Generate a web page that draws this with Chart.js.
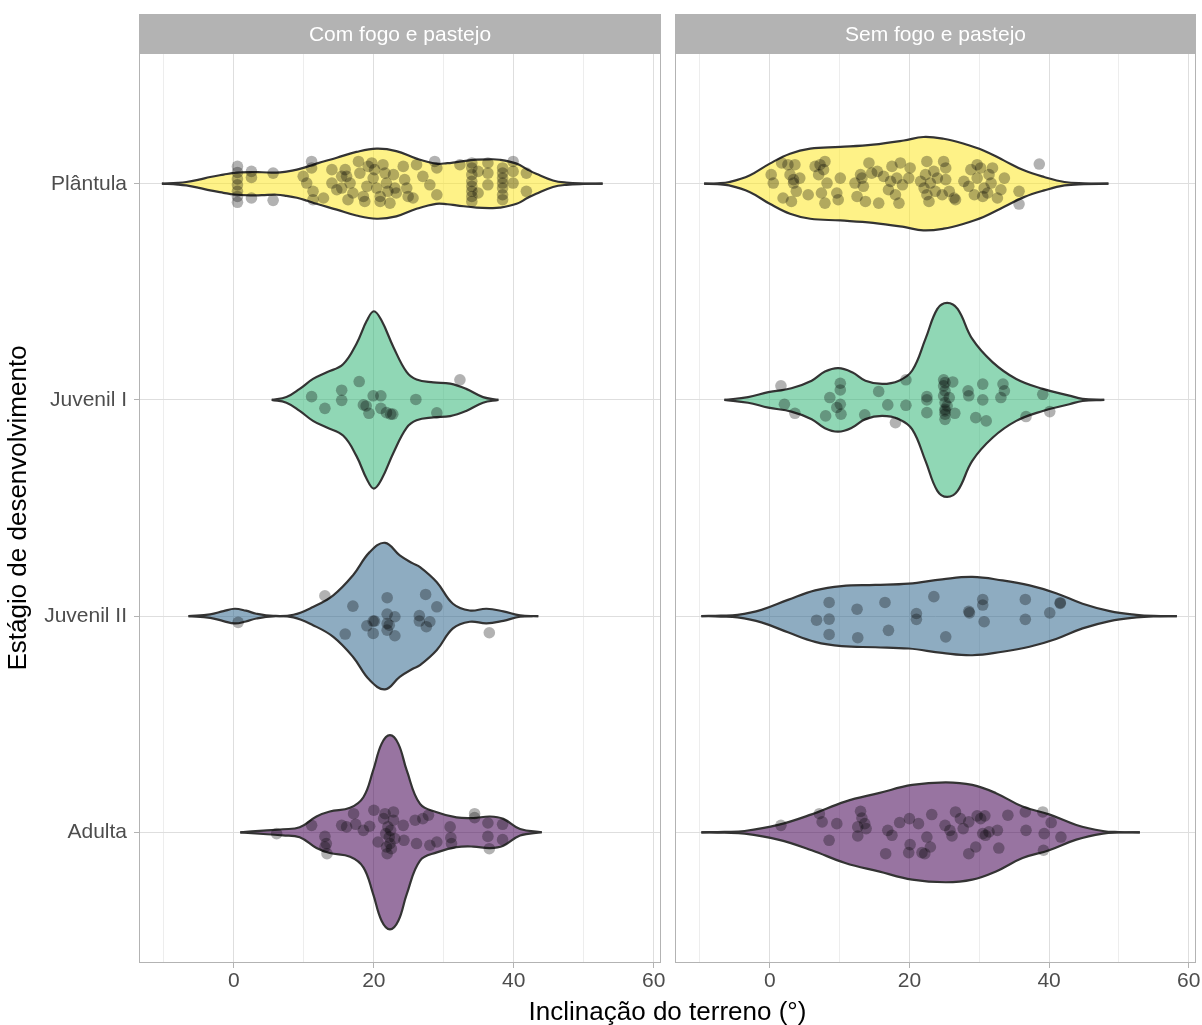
<!DOCTYPE html>
<html lang="pt">
<head>
<meta charset="utf-8">
<title>Inclinação do terreno por estágio de desenvolvimento</title>
<script src="https://cdn.jsdelivr.net/npm/chart.js@4.4.1/dist/chart.umd.min.js"></script>
<style>
  html, body { margin: 0; padding: 0; background: #fff; }
  #wrap { position: relative; width: 1202px; height: 1025px; overflow: hidden; }
  #wrap canvas { position: absolute; left: 0; top: 0; }
  #xtitle {
    position: absolute; left: 140px; width: 1055px; top: 996px;
    text-align: center; font: 26px 'Liberation Sans', Arial, sans-serif;
    line-height: 30px; color: #000;
  }
</style>
</head>
<body>
<div id="wrap">
  <canvas id="com" width="1202" height="1025"></canvas>
  <canvas id="sem" width="1202" height="1025"></canvas>
  <div id="xtitle">Inclinação do terreno (°)</div>
</div>
<script>
// ---- Categories, facets and axis breaks ----
const stages = ['Plântula', 'Juvenil I', 'Juvenil II', 'Adulta'];
const panels = ['Com fogo e pastejo', 'Sem fogo e pastejo'];
const xTicks = [0, 20, 40, 60];
const xMinorGrid = [-10, 10, 30, 50];
const stageColors = ['rgba(253,231,37,0.55)', 'rgba(53,183,121,0.55)', 'rgba(49,104,142,0.55)', 'rgba(68,1,84,0.55)'];

// ---- Violin outlines: [slope (°), half width in category units] ----
const comPlantulaViolin = [[-10.3,0],[-8,0.004],[-6.8,0.008],[-5,0.019],[-3.4,0.031],[-1.5,0.042],[0,0.05],[2.3,0.054],[4,0.053],[6.1,0.051],[7.5,0.056],[9,0.065],[10.5,0.079],[11.8,0.093],[14.7,0.12],[17.5,0.147],[20.4,0.162],[23.2,0.151],[26.1,0.116],[28.9,0.093],[30.5,0.095],[31.8,0.1],[34.7,0.111],[36.5,0.113],[38,0.111],[40.4,0.093],[42,0.065],[43.2,0.046],[45.6,0.015],[47.5,0.005],[50,0.001],[52.7,0]];
const comJuv1Violin = [[5.4,0],[7.5,0.013],[9.4,0.051],[11.3,0.097],[13.2,0.127],[15.6,0.165],[17.5,0.259],[19,0.367],[20,0.41],[21.1,0.367],[22.8,0.244],[24.7,0.128],[26.1,0.094],[28.5,0.081],[30.9,0.075],[33.2,0.051],[35.6,0.013],[37.8,0]];
const comJuv2Violin = [[-6.5,0],[-3.4,0.008],[-1.5,0.023],[0.1,0.034],[1.7,0.025],[3.2,0.011],[5.6,0.001],[8.5,0.006],[11.3,0.042],[14.2,0.096],[17,0.188],[19.4,0.296],[21.6,0.339],[23.7,0.281],[25.5,0.245],[26.6,0.227],[29,0.157],[31.3,0.057],[33.7,0.026],[36.1,0.034],[38.5,0.022],[40.9,0.003],[43.5,0]];
const comAdultaViolin = [[0.9,0],[4.2,0.008],[7,0.014],[9.4,0.023],[11.8,0.073],[13.7,0.096],[16.6,0.113],[18.5,0.162],[19.9,0.286],[21.1,0.409],[22.3,0.449],[23.5,0.409],[24.7,0.286],[26.6,0.131],[29,0.093],[31.8,0.069],[34.2,0.066],[36.6,0.073],[38.5,0.062],[40.9,0.015],[44,0]];

const semPlantulaViolin = [[-9.4,0],[-7.5,0.002],[-5.8,0.008],[-2.9,0.038],[0,0.093],[2.9,0.139],[5.8,0.162],[10.1,0.17],[14.8,0.181],[19.2,0.2],[22,0.216],[24.9,0.208],[27.8,0.185],[30.6,0.154],[33.5,0.108],[36.4,0.062],[39.3,0.031],[42.2,0.008],[45,0.002],[48.5,0]];
const semJuv1Violin = [[-6.5,0],[-3.1,0.013],[-0.2,0.036],[3.1,0.054],[6,0.089],[7.9,0.131],[9.8,0.147],[11.8,0.128],[13.7,0.089],[16.1,0.074],[18.5,0.089],[20.4,0.136],[22.3,0.282],[24,0.421],[25.4,0.449],[26.9,0.421],[29,0.282],[31.9,0.175],[35.3,0.097],[39.1,0.051],[42.9,0.02],[44.8,0.005],[47.9,0]];
const semJuv2Violin = [[-9.8,0],[-7,0.002],[-4.6,0.006],[-1.2,0.029],[2.6,0.075],[6.5,0.119],[10.3,0.139],[15.1,0.144],[19.9,0.15],[24.7,0.17],[29,0.181],[33.3,0.165],[37.2,0.142],[41,0.106],[44.8,0.057],[48.7,0.023],[52.5,0.006],[55,0.001],[58.3,0]];
const semAdultaViolin = [[-9.8,0],[-6.5,0.002],[-3.6,0.006],[1.2,0.034],[6,0.083],[10.8,0.142],[15.6,0.181],[20.4,0.219],[25.2,0.231],[29,0.219],[32.4,0.181],[36.2,0.119],[40,0.083],[43.9,0.034],[47.7,0.006],[50,0.001],[53,0]];

// ---- Observations: [slope (°), vertical jitter in hundredths of a category] ----
const JITTER_UNIT = 0.01;
const comPlantulaPts = [[0.5,-8.0],[0.5,-5.2],[0.5,-2.2],[0.5,0.5],[0.5,3.5],[0.5,5.9],[0.5,8.6],[2.5,-5.7],[2.5,-2.9],[2.5,6.6],[5.6,-4.9],[5.6,7.7],[10.4,-0.3],[11.1,-10.3],[11.1,-7.3],[11.3,3.5],[11.3,7.4],[9.9,-3.4],[12.8,6.6],[14.0,-6.5],[14.0,-0.3],[14.7,2.8],[15.4,2.0],[15.9,-6.5],[16.1,-3.4],[16.6,-0.3],[17.0,4.3],[17.8,-10.3],[18.0,-4.9],[18.5,5.9],[18.7,8.2],[19.0,1.2],[19.7,-9.6],[19.9,-2.6],[20.1,-6.5],[20.4,2.0],[20.9,5.9],[21.3,-8.8],[21.6,-4.9],[21.8,-0.3],[22.0,3.5],[22.3,9.0],[22.8,-4.2],[23.0,2.0],[23.2,4.3],[24.2,-8.0],[24.4,-1.9],[24.7,2.0],[24.9,5.9],[25.6,6.6],[26.1,-8.8],[27.0,-3.4],[28.0,0.5],[28.7,-10.3],[29.0,-7.3],[29.0,5.1],[20.9,8.2],[19.2,-8.0],[15.4,-3.4],[16.3,7.4],[34.0,-9.6],[34.0,-7.3],[34.0,-4.2],[34.0,-1.1],[34.0,1.2],[34.0,3.5],[34.0,5.9],[34.0,8.2],[32.3,-8.8],[34.9,-5.7],[36.3,-9.6],[36.3,-4.9],[36.3,0.5],[34.9,4.3],[38.4,-7.3],[38.4,-4.9],[38.4,-2.6],[38.4,-0.3],[38.4,2.0],[38.4,5.1],[38.4,7.4],[39.9,-10.3],[39.9,-5.7],[39.9,-0.3],[41.8,-4.9],[41.8,3.5]];
const comJuv1Pts = [[11.1,-1.5],[13.0,3.9],[15.4,-4.5],[15.4,0.2],[17.9,-8.5],[18.5,2.3],[18.9,2.8],[19.3,6.2],[19.9,-1.9],[21.0,-1.9],[21.0,3.9],[21.8,5.9],[22.4,6.6],[22.7,6.6],[26.0,-0.2],[29.0,6.0],[32.3,-9.3]];
const comJuv2Pts = [[0.6,2.9],[13.0,-9.4],[15.9,8.3],[17.0,-4.6],[19.0,4.5],[19.9,2.3],[19.9,8.0],[20.1,2.3],[21.9,-8.5],[21.9,-0.9],[21.9,3.4],[21.9,6.5],[22.2,4.2],[23.0,0.3],[23.0,9.1],[26.5,-0.2],[26.5,2.3],[27.4,-10.0],[27.5,4.9],[28.0,2.6],[29.0,-4.3],[36.5,7.7]];
const comAdultaPts = [[6.1,0.6],[11.1,-3.2],[13.0,1.9],[13.2,5.2],[13.0,6.8],[13.3,9.9],[15.4,-3.2],[16.1,-2.5],[17.1,-8.6],[17.4,-3.7],[18.5,-0.9],[19.4,-2.8],[20.0,-10.2],[20.6,4.5],[21.4,-6.3],[21.6,-8.6],[21.7,0.6],[21.8,6.8],[21.9,9.9],[22.0,-2.5],[22.2,2.2],[22.3,5.2],[22.4,-0.9],[22.5,7.6],[22.8,-9.4],[22.8,-5.6],[23.0,2.9],[24.2,-3.2],[24.3,3.7],[25.9,-5.6],[26.1,5.2],[27.0,-6.3],[27.8,-7.9],[28.0,6.0],[29.0,4.5],[30.9,-2.5],[31.0,2.5],[31.1,5.2],[34.4,-8.6],[34.4,-6.8],[36.3,-4.3],[36.3,1.9],[36.5,7.6],[38.4,-3.7],[38.4,3.4]];

const semPlantulaPts = [[0.2,-4.2],[0.5,-0.3],[1.7,-9.6],[1.9,6.6],[2.6,-8.8],[2.9,-4.2],[3.4,-0.3],[3.4,-1.9],[3.6,-8.8],[3.8,3.5],[3.1,8.2],[4.3,-2.6],[5.5,5.1],[6.5,-8.0],[7.0,-4.2],[7.2,-8.8],[7.4,4.3],[7.7,-6.5],[7.9,-10.3],[7.9,9.0],[8.2,-0.3],[9.6,4.3],[10.1,-2.6],[9.8,7.4],[12.2,-0.3],[12.5,5.9],[13.0,-4.2],[13.2,-2.6],[13.4,1.2],[13.7,8.2],[14.2,-9.6],[14.6,-4.9],[15.4,-5.7],[15.6,9.0],[16.3,-3.4],[17.0,2.8],[17.3,-1.1],[17.5,-8.0],[18.0,5.1],[18.2,-2.6],[18.5,9.0],[18.7,-9.6],[19.0,0.5],[19.9,-2.6],[20.1,-7.3],[21.6,-1.1],[22.1,2.0],[22.3,-4.2],[22.5,-10.3],[22.5,5.1],[22.8,8.2],[23.0,-0.3],[23.5,-5.7],[23.7,3.5],[24.0,-2.6],[24.7,5.1],[24.9,-10.3],[25.2,-7.3],[25.2,-1.9],[25.7,3.5],[26.4,6.6],[26.6,7.4],[27.8,-1.1],[28.5,1.2],[28.8,-6.5],[29.3,5.1],[29.7,-8.8],[29.7,-2.6],[30.2,-7.3],[30.5,5.9],[30.7,2.0],[31.2,4.3],[31.4,-4.2],[31.7,-0.3],[31.9,-7.3],[32.6,6.6],[33.1,2.8],[33.6,-2.6],[35.7,3.5],[35.7,9.4],[38.6,-9.1]];
const semJuv1Pts = [[1.6,-6.5],[2.1,2.0],[3.6,6.2],[8.0,7.4],[8.6,-1.1],[9.6,3.5],[10.1,-7.7],[10.1,-4.6],[10.1,2.0],[10.2,6.6],[13.6,6.9],[15.6,-3.9],[16.9,2.3],[18.0,10.5],[19.5,-9.3],[19.5,2.5],[22.5,-1.5],[22.5,0],[22.5,5.9],[24.9,-9.3],[24.9,-6.5],[24.9,-1.9],[25.1,1.2],[25.1,4.3],[25.1,6.6],[25.1,9.0],[25.4,2.8],[25.7,-1.1],[26.2,-8.3],[26.5,6.2],[28.4,-4.2],[28.5,-1.9],[29.5,8.2],[30.5,-7.3],[30.5,0],[31.0,9.7],[33.1,-1.1],[33.4,-7.3],[33.6,-4.2],[36.7,7.7],[39.1,-2.6],[40.1,5.4],[25.1,-8.0],[25.1,-4.2],[25.1,5.1]];
const semJuv2Pts = [[6.7,1.9],[8.5,-6.3],[8.5,1.4],[8.5,8.5],[12.5,-3.2],[12.6,10.0],[16.5,-6.3],[17.0,6.6],[21.0,-1.2],[21.0,1.5],[23.5,-9.0],[25.2,9.6],[28.5,-2.2],[28.6,-1.5],[30.5,-7.7],[30.5,-5.1],[30.7,2.6],[36.6,-7.7],[36.6,1.5],[40.1,-1.5],[41.6,-6.2],[41.6,-5.9]];
const semAdultaPts = [[1.6,-3.2],[7.1,-8.6],[7.5,-4.8],[8.5,3.7],[9.6,-4.0],[12.6,1.7],[13.0,-9.7],[13.2,-6.6],[13.6,-4.0],[13.8,-1.7],[12.6,-2.5],[16.6,9.9],[16.9,-0.9],[17.5,1.4],[18.6,-4.5],[19.9,9.4],[20.0,-6.3],[20.1,5.7],[21.3,-4.0],[21.8,9.4],[22.2,9.9],[22.5,2.2],[23.2,-8.2],[23.0,6.8],[25.1,-3.2],[25.8,-0.9],[26.1,1.7],[26.6,-9.4],[27.3,-6.3],[27.7,-1.7],[28.5,9.9],[28.5,-4.8],[29.5,6.8],[29.7,-7.6],[30.2,-6.3],[30.5,0.6],[30.9,1.4],[30.8,-7.6],[31.4,-0.2],[32.6,-0.9],[32.8,7.3],[34.1,-7.9],[36.6,-9.4],[36.7,-0.9],[39.1,-9.4],[39.3,0.6],[39.2,8.3],[40.3,-4.5],[41.7,2.2]];

const comViolins = [comPlantulaViolin, comJuv1Violin, comJuv2Violin, comAdultaViolin];
const semViolins = [semPlantulaViolin, semJuv1Violin, semJuv2Violin, semAdultaViolin];
const comPoints = [comPlantulaPts, comJuv1Pts, comJuv2Pts, comAdultaPts];
const semPoints = [semPlantulaPts, semJuv1Pts, semJuv2Pts, semAdultaPts];

// ---- Shared scale limits ----
const X_MIN = -13.43, X_MAX = 60.9;
const Y_MIN = 0.4, Y_MAX = 4.6;
const FONT = "'Liberation Sans', Arial, Helvetica, sans-serif";

// Violin = two mirrored edges; the edge drawn first carries the fill so both outlines sit on top
function violinDatasets(profile, cat, fillColor) {
  const upper = profile.map(([x, w]) => ({ x, y: cat - w }));
  const lower = profile.map(([x, w]) => ({ x, y: cat + w }));
  const common = { borderColor: '#333333', borderWidth: 2.2, pointRadius: 0, tension: 0.4, order: 2 };
  return [
    Object.assign({ data: upper, fill: false }, common),
    Object.assign({ data: lower, fill: '-1', backgroundColor: fillColor }, common)
  ];
}

function pointDataset(pts, cat) {
  return {
    data: pts.map(([x, j]) => ({ x, y: cat + j * JITTER_UNIT })),
    showLine: false, fill: false,
    pointRadius: 5.8, pointBorderWidth: 0,
    pointBackgroundColor: 'rgba(0,0,0,0.3)',
    order: 1
  };
}

function buildDatasets(violins, points) {
  const ds = [];
  violins.forEach((v, i) => ds.push(...violinDatasets(v, i + 1, stageColors[i])));
  points.forEach((p, i) => ds.push(pointDataset(p, i + 1)));
  return ds;
}

// Facet strip above the panel and grey panel border
const facetPlugin = {
  id: 'facet',
  afterDraw(chart, args, opts) {
    const { ctx, chartArea: a } = chart;
    ctx.save();
    ctx.fillStyle = '#B3B3B3';
    ctx.fillRect(a.left - 1, 14, a.right - a.left + 2, a.top - 14);
    ctx.fillStyle = '#FFFFFF';
    ctx.font = '21px ' + FONT;
    ctx.textAlign = 'center';
    ctx.textBaseline = 'middle';
    ctx.fillText(opts.label, (a.left + a.right) / 2, (14 + a.top) / 2 + 1);
    ctx.strokeStyle = '#B3B3B3';
    ctx.lineWidth = 1;
    ctx.strokeRect(a.left - 0.5, a.top - 0.5, a.right - a.left + 1, a.bottom - a.top + 1);
    ctx.restore();
  }
};

function makeChart(canvasId, panelIndex, violins, points) {
  const first = panelIndex === 0;
  return new Chart(document.getElementById(canvasId), {
    type: 'line',
    data: { datasets: buildDatasets(violins, points) },
    plugins: [facetPlugin],
    options: {
      responsive: false,
      animation: false,
      devicePixelRatio: 1,
      events: [],
      layout: {
        autoPadding: false,
        padding: first ? { left: 0, right: 542, top: 54, bottom: 0 }
                       : { left: 676, right: 7, top: 54, bottom: 0 }
      },
      plugins: {
        legend: { display: false },
        tooltip: { enabled: false },
        facet: { label: panels[panelIndex] }
      },
      scales: {
        x: {
          type: 'linear', min: X_MIN, max: X_MAX,
          afterBuildTicks: s => { s.ticks = xMinorGrid.concat(xTicks).sort((a, b) => a - b).map(v => ({ value: v })); },
          afterFit: s => { s.height = 63; },
          border: { display: false },
          grid: {
            color: c => xTicks.includes(c.tick.value) ? '#DEDEDE' : '#EDEDED',
            lineWidth: 1,
            drawTicks: true,
            tickLength: 6,
            tickColor: c => xTicks.includes(c.tick.value) ? '#B3B3B3' : 'rgba(0,0,0,0)'
          },
          ticks: {
            callback: v => xTicks.includes(v) ? String(v) : '',
            color: '#4D4D4D', font: { family: FONT, size: 21 },
            padding: 1, maxRotation: 0, autoSkip: false
          }
        },
        y: {
          type: 'linear', reverse: true, min: Y_MIN, max: Y_MAX,
          afterBuildTicks: s => { s.ticks = stages.map((_, i) => ({ value: i + 1 })); },
          afterFit: s => { s.width = first ? 140 : 0; },
          border: { display: false },
          grid: { color: '#DEDEDE', lineWidth: 1, drawTicks: first, tickLength: 6, tickColor: '#B3B3B3' },
          ticks: {
            display: first,
            callback: v => stages[v - 1],
            color: '#4D4D4D', font: { family: FONT, size: 21 }, padding: 7
          },
          title: {
            display: first, text: 'Estágio de desenvolvimento',
            color: '#000000', font: { family: FONT, size: 26 }, padding: { top: 3, bottom: 0 }
          }
        }
      }
    }
  });
}

makeChart('com', 0, comViolins, comPoints);
makeChart('sem', 1, semViolins, semPoints);
</script>
</body>
</html>
